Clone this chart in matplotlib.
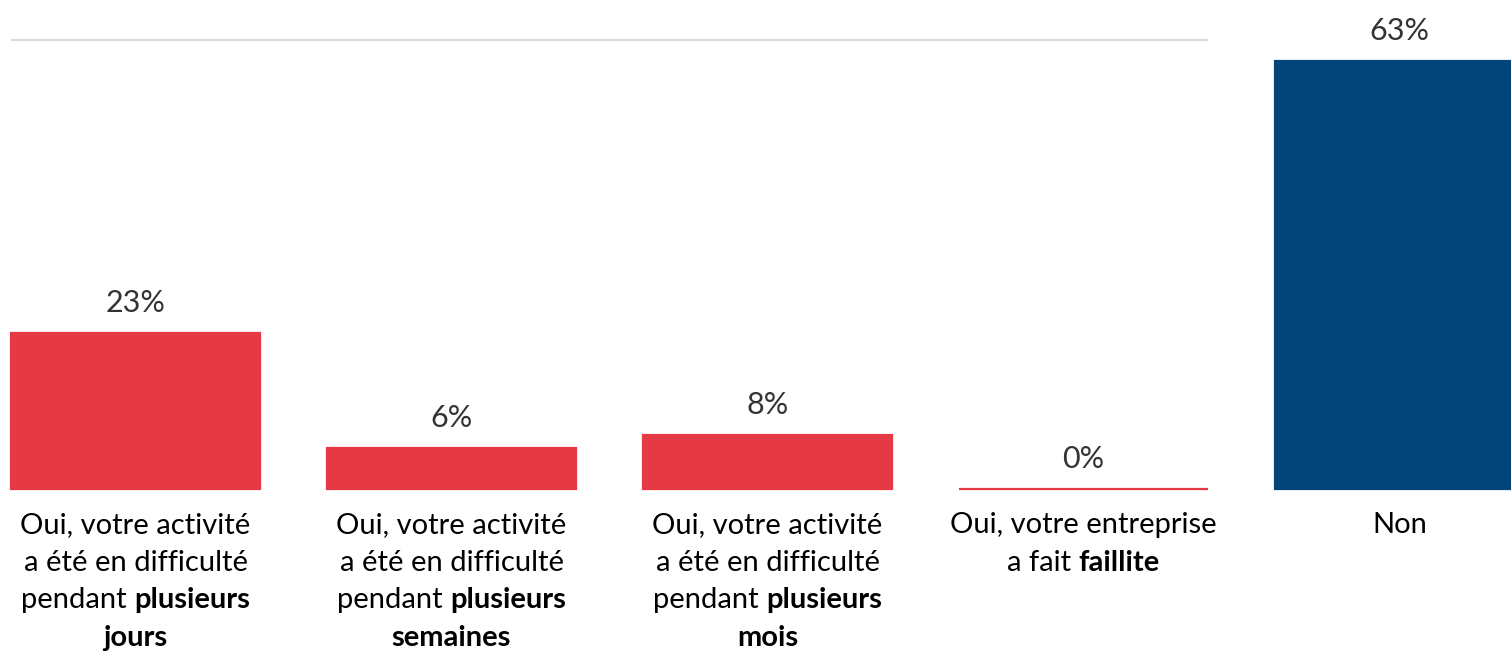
import matplotlib.pyplot as plt

plt.rcParams['font.family'] = ['Lato', 'DejaVu Sans']

# données
categories = ['jours', 'semaines', 'mois', 'faillite', 'Non']
valeurs = [23, 6, 8, 0, 63]
couleurs = ['#E63946', '#E63946', '#E63946', '#E63946', '#00447A']

# libellés : lignes composées de morceaux (texte, gras)
libelles = [
    [[('Oui, votre activité', False)], [('a été en difficulté', False)],
     [('pendant ', False), ('plusieurs', True)], [('jours', True)]],
    [[('Oui, votre activité', False)], [('a été en difficulté', False)],
     [('pendant ', False), ('plusieurs', True)], [('semaines', True)]],
    [[('Oui, votre activité', False)], [('a été en difficulté', False)],
     [('pendant ', False), ('plusieurs', True)], [('mois', True)]],
    [[('Oui, votre entreprise', False)], [('a fait ', False), ('faillite', True)]],
    [[('Non', False)]],
]

W, H = 1511, 652
fig = plt.figure(figsize=(W / 100, H / 100), dpi=100)
ax = fig.add_axes([0, 1 - 489 / H, 1, 489 / H])

x = list(range(len(valeurs)))
barres = ax.bar(x, valeurs, width=0.791, color=couleurs, edgecolor=couleurs,
                linewidth=1.6, zorder=2)
for b in barres:
    b.set_clip_on(False)
ax.set_xlim(-135.5 / 316, (W - 135.5) / 316)
ax.set_ylim(0, 489 / 6.8)
ax.hlines(66, -0.395, 3.395, color='#D9D9D9', linewidth=1.5, zorder=1)
ax.axis('off')

fs = 21
for i, v in enumerate(valeurs):
    ax.annotate(f'{v}%', (i, v), xytext=(0, 15), textcoords='offset points',
                ha='center', va='baseline', fontsize=22, color='#333333')

renderer = fig.canvas.get_renderer()
baselines = [533, 570.7, 608.4, 646]
for i, lignes in enumerate(libelles):
    cx = ax.transData.transform((i, 0))[0]
    for j, ligne in enumerate(lignes):
        y = 1 - baselines[j] / H
        textes = []
        for s, gras in ligne:
            t = fig.text(0, y, s, fontsize=fs, fontweight='bold' if gras else 'normal',
                         ha='left', va='baseline', color='black')
            textes.append(t)
        largeurs = [t.get_window_extent(renderer).width for t in textes]
        x0 = cx - sum(largeurs) / 2
        for t, w in zip(textes, largeurs):
            t.set_x(x0 / W)
            x0 += w

fig.savefig('out.png', dpi=100)
